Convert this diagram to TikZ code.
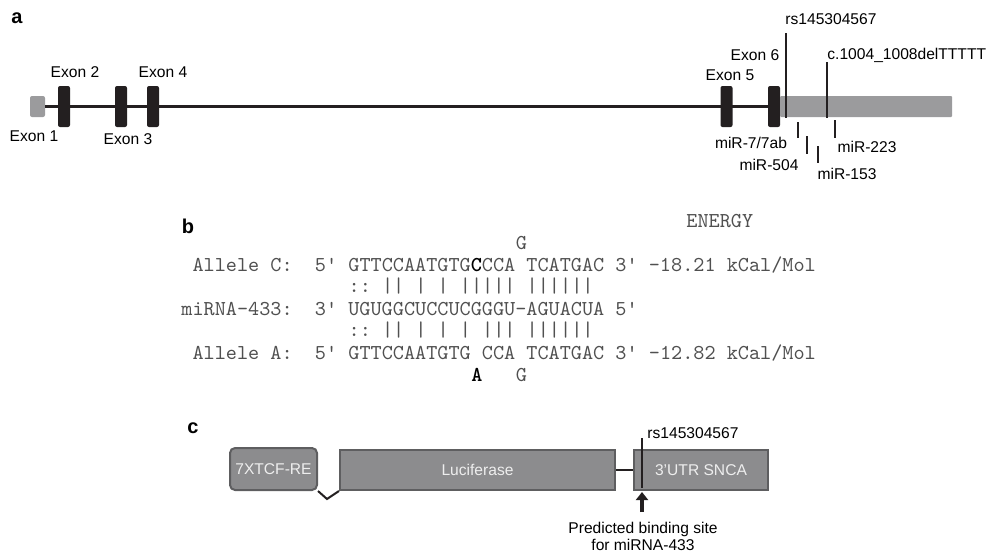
\documentclass[tikz,border=0pt]{standalone}
\usepackage{fontspec}
\setmainfont{Liberation Sans}
\setsansfont{Liberation Sans}
\usetikzlibrary{positioning, arrows.meta, calc}
\definecolor{exonblk}{HTML}{231F20}
\definecolor{utrgray}{HTML}{9B9B9D}
\definecolor{boxfill}{HTML}{8C8C8E}
\definecolor{boxline}{HTML}{5E5E60}
\definecolor{boxtext}{HTML}{EEEEEE}
\definecolor{seqgray}{HTML}{505050}

\begin{document}
\begin{tikzpicture}[x=0.5pt, y=-0.5pt, font=\fontsize{7.8}{9}\selectfont,
  exon/.style={fill=exonblk, rounded corners=1pt, minimum width=6pt, minimum height=20.5pt, inner sep=0pt},
  utrbar/.style={fill=utrgray, rounded corners=0.5pt, minimum height=10.5pt, inner sep=0pt},
  lbl/.style={inner sep=0pt},
  varline/.style={draw=exonblk, line width=1pt},
  panel/.style={font=\fontsize{10}{12}\selectfont\bfseries, inner sep=0pt},
  seq/.style={font=\fontsize{10.6}{12}\selectfont\ttfamily, text=seqgray, anchor=base west, inner sep=0pt},
  cons/.style={draw=boxline, line width=1pt, fill=boxfill, text=boxtext, minimum height=20pt, inner sep=0pt}]

  \useasboundingbox (0,0) rectangle (988,554);

  % a: gene model
  \node[panel] (pa) at (17,18) {a};
  \node[exon, fill=utrgray, minimum width=7.5pt, minimum height=10.5pt] (ex1) at (37.5,106.5) {};
  \foreach \n/\x in {2/64, 3/121, 4/153, 5/726.5, 6/774}
    \node[exon] (ex\n) at (\x,106.5) {};
  \node[utrbar, minimum width=86pt] (utr) at (866,106.5) {};
  \draw[exonblk, line width=1.25pt] (ex1.east) -- (ex2.west);
  \draw[exonblk, line width=1.25pt] (ex2.east) -- (ex6.west);

  \node[lbl] (lex1) at (34,136) {Exon 1};
  \node[lbl] (lex2) at (75,72) {Exon 2};
  \node[lbl] (lex3) at (128,139) {Exon 3};
  \node[lbl] (lex4) at (163,72) {Exon 4};
  \node[lbl] (lex5) at (730,75) {Exon 5};
  \node[lbl] (lex6) at (755,55) {Exon 6};

  % variants
  \coordinate (rstop) at (786,33);
  \coordinate (rsbot) at (786,118);
  \coordinate (deltop) at (827,62);
  \coordinate (delbot) at (827,118);
  \draw[varline] (rstop) -- (rsbot);
  \draw[varline] (deltop) -- (delbot);
  \node[lbl, anchor=west] (lrs) at (785,19) {rs145304567};
  \node[lbl, anchor=west] (ldel) at (827,55) {c.1004\_1008delTTTTT};

  % miRNA sites
  \foreach \x/\t/\b in {798/122/138, 807/136/154, 818/146/163, 835/120/138}
    \draw[varline] (\x,\t) -- (\x,\b);
  \node[lbl] (m7) at (751,143) {miR-7/7ab};
  \node[lbl] (m504) at (769,165) {miR-504};
  \node[lbl] (m153) at (847,174) {miR-153};
  \node[lbl] (m223) at (867,147) {miR-223};

  % b: alignment
  \node[panel] (pb) at (188,226) {b};
  \node[seq] (energy) at (686,227.5) {ENERGY};
  \node[seq] (gtop) at (181+11.15*30,249.5) {G};
  \node[seq] (alc) at (181+11.15*1,271.5) {Allele~C:~~5'~GTTCCAATGTG\textbf{\color{black}C}CCA~TCATGAC~3'~-18.21~kCal/Mol};
  \node[seq] (bar1) at (181+11.15*15,292) {::~||~|~|~|||||~||||||};
  \node[seq] (mir) at (181,315.5) {miRNA-433:~~3'~UGUGGCUCCUCGGGU-AGUACUA~5'};
  \node[seq] (bar2) at (181+11.15*15,336) {::~||~|~|~|~|||~||||||};
  \node[seq] (ala) at (181+11.15*1,359.5) {Allele~A:~~5'~GTTCCAATGTG~CCA~TCATGAC~3'~-12.82~kCal/Mol};
  \node[seq] (abot) at (181+11.15*26,381.5) {\textbf{\color{black}A}};
  \node[seq] (gbot) at (181+11.15*30,381.5) {G};

  % c: reporter construct
  \node[panel] (pc) at (193,428) {c};
  \node[cons, rounded corners=2.5pt, minimum width=43.5pt, minimum height=21pt] (tcf) at (273.5,469) {7XTCF-RE};
  \node[cons, minimum width=137.5pt] (luc) at (477.5,470) {Luciferase};
  \node[cons, minimum width=67pt] (snca) at (701,470) {3'UTR SNCA};
  \draw[exonblk, line width=1pt] (tcf.south east) -- (327,499) -- (luc.south west);
  \draw[exonblk, line width=1pt] (luc.east) -- (snca.west);

  \coordinate (snptop) at (642,438);
  \coordinate (snpbot) at (642,488);
  \draw[varline] (snptop) -- (snpbot);
  \node[lbl, anchor=west] (lsnp) at (647,433) {rs145304567};
  \coordinate (arrtail) at (642,512);
  \draw[exonblk, line width=2pt, -{Triangle[width=6pt,length=4pt]}] (arrtail) -- (642,492);
  \node[lbl, align=center, font=\fontsize{7.8}{8.5}\selectfont] (pred) at (643,536.5) {Predicted binding site\\for miRNA-433};
\end{tikzpicture}
\end{document}
